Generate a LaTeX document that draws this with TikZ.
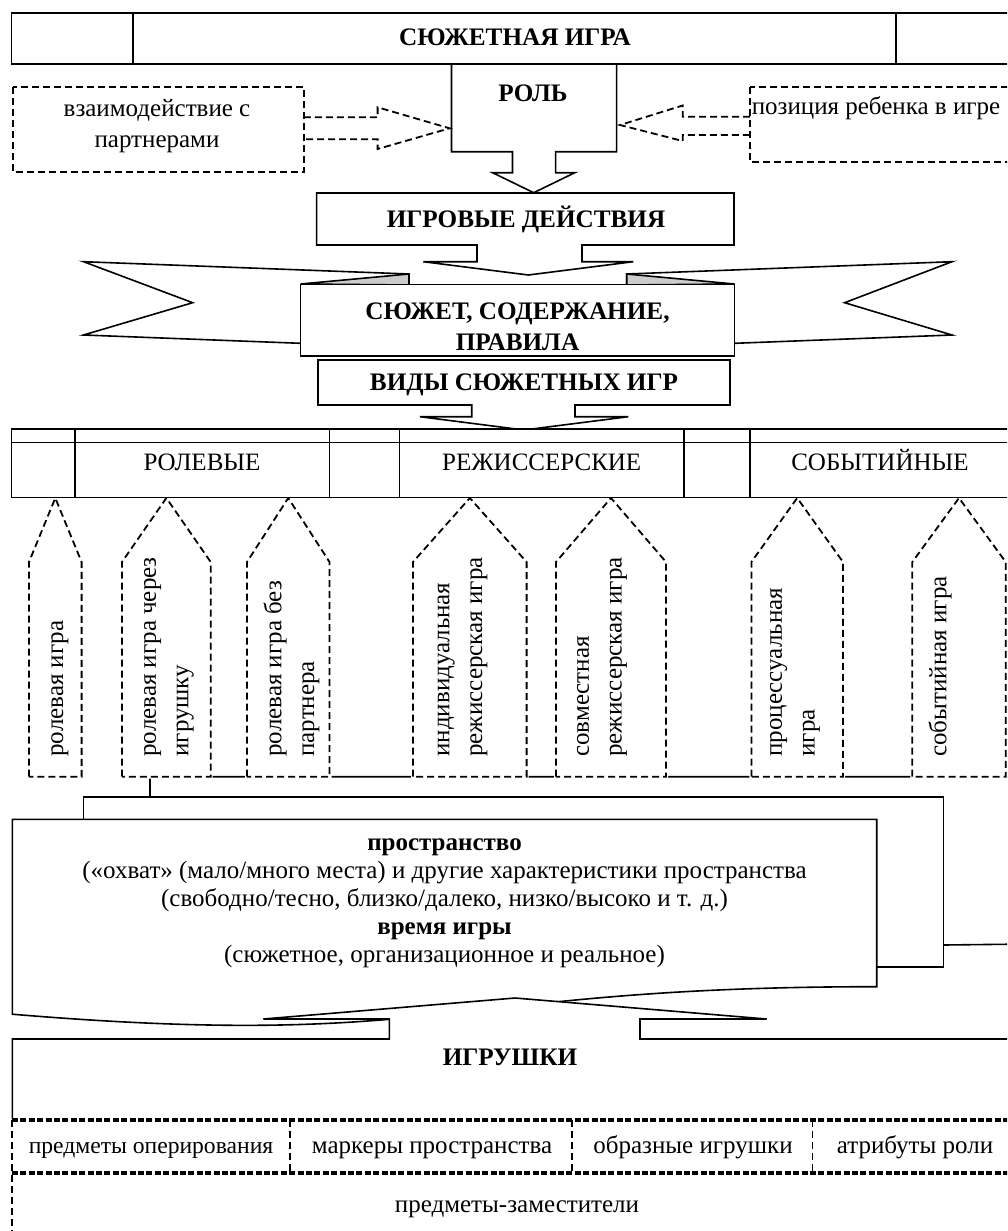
\documentclass[tikz,border=0pt]{standalone}
\usepackage{fontspec}
\setmainfont{Liberation Serif}

\begin{document}
\begin{tikzpicture}[x=0.5pt, y=-0.5pt,
		every node/.style={inner sep=0pt, align=center, font=\fontsize{12.5}{15.5}\selectfont},
		one/.style={text height=1.7ex, text depth=0.45ex},
		head/.style={one, font=\fontsize{12.6}{15.5}\selectfont\bfseries},
		side/.style={rotate=90, anchor=west, align=left, font=\fontsize{12.5}{16.3}\selectfont},
		small/.style={font=\fontsize{11.8}{14}\selectfont},
		box/.style={draw, fill=white, line width=0.8pt},
		dbox/.style={draw, fill=white, line width=0.9pt, dash pattern=on 3.5pt off 2pt},
		dline/.style={line width=0.9pt, dash pattern=on 3.5pt off 2pt},
		heavydash/.style={line width=1.6pt, dash pattern=on 3pt off 1.2pt}]
	\useasboundingbox (0,0) rectangle (1007,1231);
	\clip (0,0) rectangle (1007,1231);

	\draw[box] (11.5,13) rectangle (1030,64);
	\draw[line width=0.8pt] (133,13) -- (133,64) (896,13) -- (896,64);
	\draw (515, 40) 	node[head] 	(game) 		{СЮЖЕТНАЯ ИГРА};

	\draw[box] (451.5,64) -- (616.6,64) -- (616.6,151.7) -- (555.6,151.7) -- (555.6,172.7) -- (574.8,172.7)
		-- (533.7,192.7) -- (492.6,172.7) -- (512.5,172.7) -- (512.5,151.7) -- (451.5,151.7) -- cycle;
	\draw (533, 96) 	node[head] 	(role) 		{РОЛЬ};

	\draw[dbox] (12.8,87) rectangle (303.8,172);
	\draw (157, 126) 	node 		(partners) 	{взаимодействие с\\партнерами};
	\draw[dbox] (750,87) rectangle (1030,161.7);
	\draw (876, 109) 	node[one] 	(position) 	{позиция ребенка в игре};

	\draw[dline] (303.8,117.3) -- (377.6,117.3) -- (377.6,107.3) -- (449.6,128.3) -- (377.6,149) -- (377.6,139.3) -- (303.8,139.3);
	\draw[dline] (750,116.7) -- (682.7,116.7) -- (682.7,105.5) -- (620,125) -- (682.7,141) -- (682.7,135) -- (750,135);

	\draw[box] (316.6,193) -- (734,193) -- (734,245) -- (582,245) -- (582,261.7) -- (633.3,261.7)
		-- (528.3,275) -- (423.3,261.7) -- (477,261.7) -- (477,245) -- (316.6,245) -- cycle;
	\draw (526, 221.5) 	node[head] 	(actions) 	{ИГРОВЫЕ ДЕЙСТВИЯ};

	\draw[box] (409,274) -- (83.5,261.7) -- (192.7,302.7) -- (83.5,335) -- (300.6,343.3) -- (409,343.3) -- cycle;
	\draw[box] (626.7,274) -- (952,261.7) -- (844.6,302.7) -- (952,335) -- (734.5,343.3) -- (626.7,343.3) -- cycle;
	\draw[box, fill=gray!40] (300.6,284) -- (409,274) -- (409,285) -- cycle;
	\draw[box, fill=gray!40] (626.7,274) -- (734.5,284) -- (626.7,285) -- cycle;
	\draw[box] (300.6,284.5) rectangle (734.5,356);
	\draw (517.5, 327) 	node[font=\fontsize{12.6}{15.5}\selectfont\bfseries] (plot) {СЮЖЕТ, СОДЕРЖАНИЕ,\\ПРАВИЛА};

	\draw[box] (318,360) -- (730,360) -- (730,405) -- (575,405) -- (575,416.7) -- (628.3,416.7)
		-- (524,430) -- (420,416.7) -- (471.7,416.7) -- (471.7,405) -- (318,405) -- cycle;
	\draw (524, 384.5) 	node[head] 	(kinds) 	{ВИДЫ СЮЖЕТНЫХ ИГР};

	\fill[white] (150,776.7) rectangle (1030,945);
	\draw[line width=0.8pt] (150,796.7) -- (150,776.7) -- (1030,776.7) (943.3,945) -- (1030,944);

	\foreach \l/\r in {29/81.6, 122/210.7, 247/329.5, 413/526.6, 556/666, 751.4/843, 912.3/1005.7}
		\draw[dbox, preaction={draw=white, solid, line width=2pt}]
			(\l,776.7) -- (\l,562) -- ({(\l+\r)/2},498) -- (\r,562) -- (\r,776.7) -- cycle;

	\draw[box] (11.6,429) rectangle (1030,497.3);
	\draw[line width=0.8pt] (11.6,442.3) -- (1030,442.3);
	\foreach \x in {75, 329.5, 399.5, 684, 750}
		\draw[line width=0.8pt] (\x,429) -- (\x,497.3);
	\draw (202, 465) 	node[one] 	(roleplay) 	{РОЛЕВЫЕ};
	\draw (541.7, 465) 	node[one] 	(director) 	{РЕЖИССЕРСКИЕ};
	\draw (880, 465) 	node[one] 	(event) 	{СОБЫТИЙНЫЕ};

	\draw (60, 757) 	node[side] 	(p1) 		{ролевая игра};
	\draw (169, 757) 	node[side] 	(p2) 		{ролевая игра через\\игрушку};
	\draw (291.5, 757) 	node[side] 	(p3) 		{ролевая игра без\\партнера};
	\draw (462.5, 757) 	node[side] 	(p4) 		{индивидуальная\\режиссерская игра};
	\draw (602, 757) 	node[side] 	(p5) 		{совместная\\режиссерская игра};
	\draw (795, 757) 	node[side] 	(p6) 		{процессуальная\\игра};
	\draw (940, 757) 	node[side] 	(p7) 		{событийная игра};

	\draw[box] (83.5,796.7) rectangle (943.3,966.7);
	\draw[box] (12.3,819.3) -- (876.7,819.3) -- (876.7,986.7)
		.. controls (444.5,986.7) and (444.5,1050.4) .. (12.3,1014.2) -- cycle;
	\draw (444.5, 903) 	node[font=\fontsize{12.5}{14}\selectfont] (space) {\textbf{пространство}\\
		(«охват» (мало/много места) и другие характеристики пространства\\
		(свободно/тесно, близко/далеко, низко/высоко и т. д.)\\
		\textbf{время игры}\\
		(сюжетное, организационное и реальное)};

	\draw[box] (12.3,1119) -- (12.3,1039) -- (389.3,1039) -- (389.3,1019) -- (263.3,1019) -- (515,998)
		-- (766.7,1019) -- (640,1019) -- (640,1039) -- (1030,1039) -- (1030,1119);
	\draw (510, 1060) 	node[head] 	(toys) 		{ИГРУШКИ};

	\draw[heavydash] (12,1120) -- (1030,1120) (12,1173) -- (1030,1173);
	\draw[dline] (12,1120) -- (12,1240);
	\foreach \x in {290.3, 571.6, 812.5}
		\draw[dline] (\x,1120) -- (\x,1173);
	\draw (151, 1148) 	node[one, small] (operate) 	{предметы оперирования};
	\draw (432, 1148) 	node[one] 	(markers) 	{маркеры пространства};
	\draw (693, 1148) 	node[one] 	(figures) 	{образные игрушки};
	\draw (915, 1148) 	node[one] 	(attrs) 	{атрибуты роли};
	\draw (517, 1207) 	node[one] 	(subst) 	{предметы-заместители};
\end{tikzpicture}
\end{document}
